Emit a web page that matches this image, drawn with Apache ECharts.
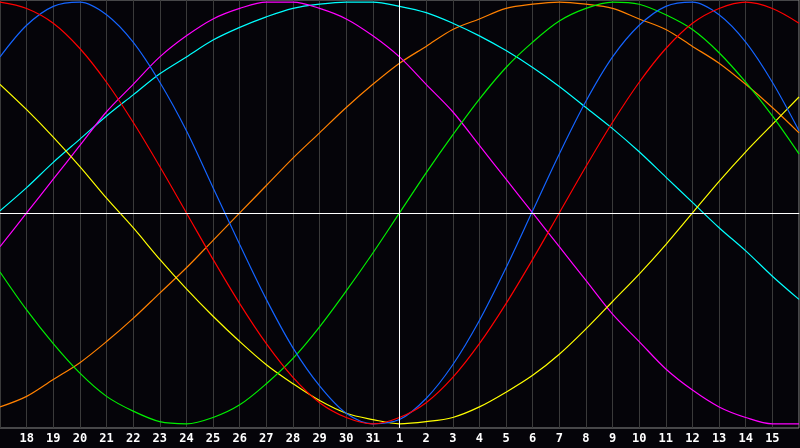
<!DOCTYPE html>
<html>
<head>
<meta charset="utf-8">
<script src="https://cdn.jsdelivr.net/npm/echarts@6/dist/echarts.min.js"></script>
<style>
html,body{margin:0;padding:0;background:#050409;}
#c{width:800px;height:448px;}
</style>
</head>
<body>
<div id="c"></div>
<script>
var days = ['17','18','19','20','21','22','23','24','25','26','27','28','29','30','31','1','2','3','4','5','6','7','8','9','10','11','12','13','14','15','16'];
var red = [100,97,90,78,62,43,22,0,-22,-43,-62,-78,-90,-97,-100,-97,-90,-78,-62,-43,-22,0,22,43,62,78,90,97,100,97,90];
var blue = [74,89,98,100,94,81,62,39,12,-15,-41,-64,-82,-95,-100,-98,-88,-72,-51,-26,1,28,53,74,89,98,100,94,81,62,39];
var yellow = [61,49,36,22,7,-7,-22,-36,-49,-61,-72,-81,-89,-95,-98,-100,-99,-97,-92,-85,-77,-67,-55,-42,-29,-15,0,15,29,42,55];
var magenta = [-16,0,16,32,48,61,74,84,92,97,100,100,97,92,84,74,61,48,32,16,0,-16,-32,-48,-61,-74,-84,-92,-97,-100,-100];
var cyan = [1,12,24,35,46,56,66,74,82,88,93,97,99,100,100,98,95,90,84,77,69,60,50,40,29,17,5,-7,-18,-30,-41];
var orange = [-92,-87,-79,-71,-61,-50,-38,-26,-13,0,13,26,38,50,61,71,79,87,92,97,99,100,99,97,92,87,79,71,61,50,38];
var green = [-28,-46,-62,-76,-87,-94,-99,-100,-97,-91,-81,-69,-54,-37,-19,0,19,37,54,69,81,91,97,100,99,94,87,76,62,46,28];

var seriesDefs = [
  {name:'orange', data: orange, color:'#ff8000'},
  {name:'cyan', data: cyan, color:'#00ffff'},
  {name:'magenta', data: magenta, color:'#ff00ff'},
  {name:'yellow', data: yellow, color:'#ffff00'},
  {name:'green', data: green, color:'#00ee00'},
  {name:'blue', data: blue, color:'#1464ff'},
  {name:'red', data: red, color:'#ff0000'}
];

var chart = echarts.init(document.getElementById('c'), null, {renderer:'canvas'});
var series = seriesDefs.map(function(s){
  return {
    name: s.name, type:'line', data: s.data, smooth: 0.33, symbol:'none',
    lineStyle:{color:s.color, width:1.2}, itemStyle:{color:s.color},
    silent:true, animation:false, z:3
  };
});
series.push({
  type:'line', data: [], silent:true, animation:false, z:2,
  markLine:{
    symbol:'none', silent:true, animation:false,
    label:{show:false},
    lineStyle:{color:'#ffffff', width:1, type:'solid'},
    data:[{yAxis:0},{xAxis:'1'}]
  }
});

chart.setOption({
  backgroundColor:'#050409',
  animation:false,
  grid:{left:0, right:1, top:0, bottom:20, show:true, borderColor:'#8a8a8a', borderWidth:1,
    backgroundColor:'transparent', containLabel:false, outerBoundsMode:'none'},
  xAxis:{
    type:'category', data: days, boundaryGap:false,
    axisLine:{show:true, lineStyle:{color:'#b4b4b4', width:1}},
    axisTick:{show:false},
    axisLabel:{show:true, color:'#ffffff', fontWeight:'bold',
      interval:function(idx){ return idx > 0 && idx < days.length - 1; },
      fontFamily:'DejaVu Sans Mono', fontSize:12, margin:5},
    splitLine:{show:true, interval:0, lineStyle:{color:'#3a3a3a', width:1}}
  },
  yAxis:{
    type:'value', min:-102, max:101,
    axisLine:{show:false}, axisTick:{show:false}, axisLabel:{show:false}, splitLine:{show:false}
  },
  series: series
});
</script>
</body>
</html>
